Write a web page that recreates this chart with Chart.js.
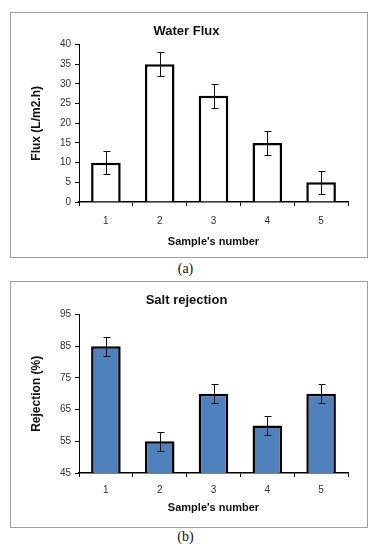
<!DOCTYPE html>
<html>
<head>
<meta charset="utf-8">
<script src="https://cdn.jsdelivr.net/npm/chart.js@4.4.1/dist/chart.umd.min.js"></script>
<style>
  body { margin: 0; background: #fff; width: 371px; height: 546px; position: relative; overflow: hidden; }
  .panel { position: absolute; left: 10px; width: 356px; border: 1px solid #a0a0a0; background: #fff; }
  .panel canvas { display: block; }
  .caption { position: absolute; left: 0; width: 371px; text-align: center; font-family: "Liberation Serif", serif; font-size: 14px; color: #111; }
</style>
</head>
<body>
<div class="panel" style="top:12px; height:244px;"><canvas id="fluxChart" width="356" height="244"></canvas></div>
<div class="caption" style="top:261px;">(a)</div>
<div class="panel" style="top:281px; height:245px;"><canvas id="rejChart" width="356" height="245"></canvas></div>
<div class="caption" style="top:529px;">(b)</div>
<script>
// data
const samples = ['1', '2', '3', '4', '5'];
const fluxValues = [10, 35, 27, 15, 5];
const fluxErrors = [3, 3, 3, 3, 3];
const rejectionValues = [85, 55, 70, 60, 70];
const rejectionErrors = [3, 3, 3, 3, 3];

// draws +/- error bars on top of each bar
const errorBarPlugin = {
	id: 'errorBars',
	afterDatasetsDraw(chart, args, opts) {
		const ctx = chart.ctx;
		const meta = chart.getDatasetMeta(0);
		const yScale = chart.scales.y;
		const data = chart.data.datasets[0].data;
		ctx.save();
		ctx.strokeStyle = '#111';
		ctx.lineWidth = 1;
		meta.data.forEach((bar, i) => {
			const x = Math.round(bar.x) + 0.5;
			const top = Math.round(yScale.getPixelForValue(data[i] + opts.errors[i])) + 0.5;
			const bottom = Math.round(yScale.getPixelForValue(data[i] - opts.errors[i])) + 0.5;
			ctx.beginPath();
			ctx.moveTo(x, top); ctx.lineTo(x, bottom);
			ctx.moveTo(x - 3, top); ctx.lineTo(x + 4, top);
			ctx.moveTo(x - 3, bottom); ctx.lineTo(x + 4, bottom);
			ctx.stroke();
		});
		ctx.restore();
	}
};

function makeChart(id, title, yTitle, values, errors, fill, yMin, yMax, step, lay) {
	return new Chart(document.getElementById(id), {
		type: 'bar',
		data: {
			labels: samples,
			datasets: [{
				data: values,
				backgroundColor: fill,
				borderColor: '#000',
				borderWidth: 2.5,
				borderSkipped: 'bottom',
				barPercentage: 0.55,
				categoryPercentage: 1
			}]
		},
		plugins: [errorBarPlugin],
		options: {
			responsive: false,
			animation: false,
			layout: { padding: { left: 14, right: 19, top: lay.top, bottom: 4 } },
			plugins: {
				legend: { display: false },
				tooltip: { enabled: false },
				title: {
					display: true,
					text: title,
					color: '#111',
					font: { family: 'Liberation Sans', size: 13, weight: 'bold' },
					padding: { top: 0, bottom: lay.titleGap }
				},
				errorBars: { errors: errors }
			},
			scales: {
				x: {
					grid: { display: true, offset: true, drawOnChartArea: false, color: '#000', tickLength: 4 },
					border: { color: '#000', width: 1.5 },
					ticks: { color: '#333', font: { family: 'Liberation Sans', size: 10 }, padding: lay.xPad },
					title: {
						display: true,
						text: "Sample's number",
						color: '#111',
						font: { family: 'Liberation Sans', size: 11, weight: 'bold' },
						padding: { top: 0, bottom: lay.xTitleGap }
					},
					afterFit(scale) { scale.height = lay.xHeight; }
				},
				y: {
					min: yMin,
					max: yMax,
					grid: { drawOnChartArea: false, color: '#000', tickLength: 4 },
					border: { color: '#000', width: 1 },
					ticks: { stepSize: step, color: '#333', font: { family: 'Liberation Sans', size: 10 }, padding: 4 },
					title: {
						display: true,
						text: yTitle,
						color: '#111',
						font: { family: 'Liberation Sans', size: 12, weight: 'bold' },
						padding: { top: 4, bottom: 10 }
					},
					afterFit(scale) { scale.width = 54; }
				}
			}
		}
	});
}

makeChart('fluxChart', 'Water Flux', 'Flux (L/m2.h)', fluxValues, fluxErrors, '#ffffff', 0, 40, 5,
	{ top: 11, titleGap: 5, xPad: 9, xTitleGap: 4, xHeight: 51 });
makeChart('rejChart', 'Salt rejection', 'Rejection (%)', rejectionValues, rejectionErrors, '#4f81bd', 45, 95, 10,
	{ top: 11, titleGap: 6, xPad: 7, xTitleGap: 8, xHeight: 50 });
</script>
</body>
</html>
